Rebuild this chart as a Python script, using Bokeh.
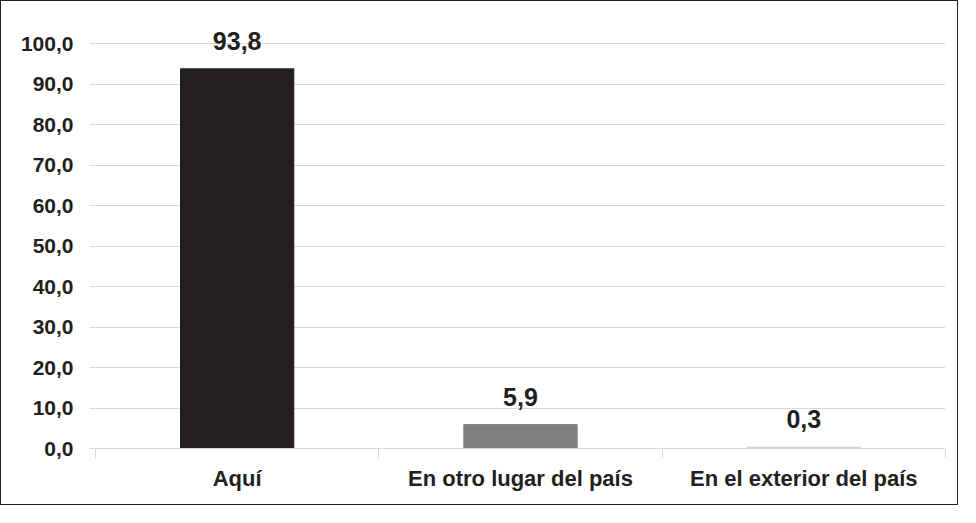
from bokeh.plotting import figure
from bokeh.models import ColumnDataSource, FixedTicker, Range1d
from bokeh.core.properties import value
from bokeh.embed import file_html
from bokeh.resources import INLINE

categories = ["Aquí", "En otro lugar del país", "En el exterior del país"]
values = [93.8, 5.9, 0.3]
value_labels = ["93,8", "5,9", "0,3"]
bar_colors = ["#231f20", "#808083", "#d0d0d0"]
y_ticks = [0, 10, 20, 30, 40, 50, 60, 70, 80, 90, 100]
y_tick_labels = ["0,0", "10,0", "20,0", "30,0", "40,0", "50,0", "60,0", "70,0", "80,0", "90,0", "100,0"]

FONT = "Liberation Sans"
TXT = "#231f20"
GRID = "#d9d9d9"

xs = [i + 0.5 for i in range(len(categories))]
src = ColumnDataSource(dict(x=xs, top=values, label=value_labels, color=bar_colors))

p = figure(width=958, height=505,
           x_range=Range1d(0, len(categories)), y_range=Range1d(0, 105),
           output_backend="svg", toolbar_location=None,
           min_border_left=94, min_border_right=14,
           min_border_top=22, min_border_bottom=58)
p.styles = {"border": "1px solid #231f20"}
p.outline_line_color = None
p.background_fill_color = "white"
p.border_fill_color = "white"

p.vbar(x="x", top="top", width=0.4, bottom=0, color="color", source=src)
p.text(x="x", y="top", text="label", source=src, y_offset=-28,
       text_align="center", text_baseline="alphabetic",
       text_font=value(FONT), text_font_style="bold", text_font_size="25px",
       text_color=TXT)

# y axis
p.yaxis.ticker = FixedTicker(ticks=y_ticks, minor_ticks=[])
p.yaxis.major_label_overrides = {t: l for t, l in zip(y_ticks, y_tick_labels)}
p.yaxis.axis_line_color = None
p.yaxis.major_tick_line_color = GRID
p.yaxis.major_tick_out = 6
p.yaxis.major_tick_in = 0
p.yaxis.minor_tick_line_color = None
p.yaxis.major_label_standoff = 16
p.yaxis.major_label_text_font = FONT
p.yaxis.major_label_text_font_style = "bold"
p.yaxis.major_label_text_font_size = "21px"
p.yaxis.major_label_text_color = TXT

p.ygrid.ticker = FixedTicker(ticks=y_ticks)
p.ygrid.grid_line_color = GRID
p.xgrid.visible = False

# x axis: labels at centres, small ticks at category boundaries
p.xaxis.ticker = FixedTicker(ticks=xs, minor_ticks=list(range(len(categories) + 1)))
p.xaxis.major_label_overrides = {x: c for x, c in zip(xs, categories)}
p.xaxis.axis_line_color = GRID
p.xaxis.major_tick_line_color = None
p.xaxis.major_tick_out = 0
p.xaxis.major_tick_in = 0
p.xaxis.minor_tick_line_color = GRID
p.xaxis.minor_tick_out = 10
p.xaxis.minor_tick_in = 0
p.xaxis.major_label_standoff = 7
p.xaxis.major_label_text_font = FONT
p.xaxis.major_label_text_font_style = "bold"
p.xaxis.major_label_text_font_size = "22px"
p.xaxis.major_label_text_color = TXT

open("out.html", "w").write(file_html(p, INLINE))
